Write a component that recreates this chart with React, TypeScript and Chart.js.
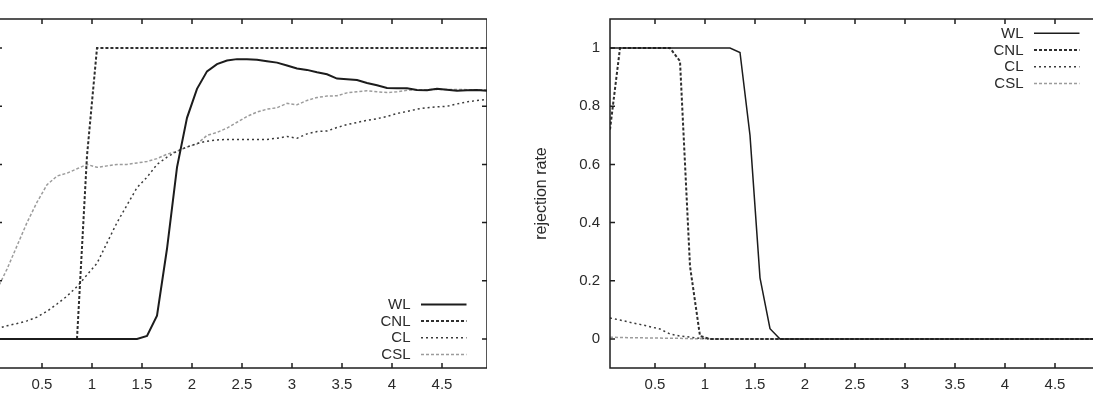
import { useEffect, useRef } from "react";
import { Chart, registerables } from "chart.js";

Chart.register(...registerables);

// Sample positions shared by every curve
const xValues = [
  0.05, 0.15, 0.25, 0.35, 0.45, 0.55, 0.65, 0.75, 0.85, 0.95,
  1.05, 1.15, 1.25, 1.35, 1.45, 1.55, 1.65, 1.75, 1.85, 1.95,
  2.05, 2.15, 2.25, 2.35, 2.45, 2.55, 2.65, 2.75, 2.85, 2.95,
  3.05, 3.15, 3.25, 3.35, 3.45, 3.55, 3.65, 3.75, 3.85, 3.95,
  4.05, 4.15, 4.25, 4.35, 4.45, 4.55, 4.65, 4.75, 4.85, 4.95,
];

const xTicks = [0.5, 1, 1.5, 2, 2.5, 3, 3.5, 4, 4.5];
const yTicks = [0, 0.2, 0.4, 0.6, 0.8, 1];
const seriesNames = ["WL", "CNL", "CL", "CSL"];

// Left panel
const wlLeft = [
  0, 0, 0, 0, 0, 0, 0, 0, 0, 0,
  0, 0, 0, 0, 0, 0.01, 0.08, 0.31, 0.59, 0.76,
  0.86, 0.92, 0.945, 0.957, 0.962, 0.962, 0.96, 0.955, 0.95, 0.94,
  0.93, 0.925, 0.917, 0.91, 0.895, 0.893, 0.89, 0.88, 0.872, 0.863,
  0.862, 0.862, 0.856, 0.855, 0.86, 0.857, 0.853, 0.855, 0.856, 0.853,
];
const cnlLeft = [
  0, 0, 0, 0, 0, 0, 0, 0, 0, 0.63,
  1, 1, 1, 1, 1, 1, 1, 1, 1, 1,
  1, 1, 1, 1, 1, 1, 1, 1, 1, 1,
  1, 1, 1, 1, 1, 1, 1, 1, 1, 1,
  1, 1, 1, 1, 1, 1, 1, 1, 1, 1,
];
const clLeft = [
  0.035, 0.045, 0.053, 0.062, 0.075, 0.095, 0.12, 0.147, 0.18, 0.22,
  0.26, 0.33, 0.4, 0.46, 0.52, 0.556, 0.6, 0.625, 0.645, 0.66,
  0.672, 0.68, 0.684, 0.686, 0.686, 0.686, 0.686, 0.686, 0.69, 0.696,
  0.69, 0.705, 0.713, 0.715, 0.727, 0.737, 0.744, 0.752, 0.757, 0.765,
  0.775, 0.782, 0.79, 0.795, 0.798, 0.8, 0.808, 0.815, 0.82, 0.823,
];
const cslLeft = [
  0.17, 0.24, 0.32, 0.4, 0.47, 0.53, 0.56, 0.57, 0.585, 0.6,
  0.59, 0.595, 0.6, 0.6, 0.605, 0.61, 0.62, 0.635, 0.645, 0.66,
  0.67, 0.7, 0.71, 0.725, 0.745, 0.765, 0.78, 0.79, 0.795, 0.81,
  0.805, 0.82, 0.83, 0.835, 0.836, 0.846, 0.85, 0.853, 0.85, 0.847,
  0.85, 0.855, 0.857, 0.857, 0.858, 0.858, 0.858, 0.857, 0.857, 0.857,
];

// Right panel (rejection rate)
const wlRight = [
  1, 1, 1, 1, 1, 1, 1, 1, 1, 1,
  1, 1, 1, 0.985, 0.7, 0.21, 0.035, 0, 0, 0,
  0, 0, 0, 0, 0, 0, 0, 0, 0, 0,
  0, 0, 0, 0, 0, 0, 0, 0, 0, 0,
  0, 0, 0, 0, 0, 0, 0, 0, 0, 0,
];
const cnlRight = [
  0.72, 1, 1, 1, 1, 1, 1, 0.955, 0.25, 0.01,
  0, 0, 0, 0, 0, 0, 0, 0, 0, 0,
  0, 0, 0, 0, 0, 0, 0, 0, 0, 0,
  0, 0, 0, 0, 0, 0, 0, 0, 0, 0,
  0, 0, 0, 0, 0, 0, 0, 0, 0, 0,
];
const clRight = [
  0.072, 0.065, 0.057, 0.05, 0.042, 0.034, 0.017, 0.01, 0.006, 0.002,
  0, 0, 0, 0, 0, 0, 0, 0, 0, 0,
  0, 0, 0, 0, 0, 0, 0, 0, 0, 0,
  0, 0, 0, 0, 0, 0, 0, 0, 0, 0,
  0, 0, 0, 0, 0, 0, 0, 0, 0, 0,
];
const cslRight = [
  0.006, 0.005, 0.004, 0.004, 0.003, 0.003, 0.002, 0.002, 0.001, 0.001,
  0, 0, 0, 0, 0, 0, 0, 0, 0, 0,
  0, 0, 0, 0, 0, 0, 0, 0, 0, 0,
  0, 0, 0, 0, 0, 0, 0, 0, 0, 0,
  0, 0, 0, 0, 0, 0, 0, 0, 0, 0,
];

const lineColors = ["#1c1c1c", "#2e2e2e", "#3a3a3a", "#9c9c9c"];
const lineDashes: number[][] = [[], [3, 2], [2, 3], [3, 2]];

const FONT = "'Liberation Sans', Arial, Helvetica, sans-serif";
const TEXT_COLOR = "#2a2a2a";

// Box around the plot with short inward ticks on all four sides
const framePlugin = {
  id: "frameTicks",
  afterDatasetsDraw(chart: any) {
    const { ctx, chartArea: a, scales } = chart;
    const len = 5;
    ctx.save();
    ctx.strokeStyle = "#1e1e1e";
    ctx.lineWidth = 1.5;
    ctx.setLineDash([]);
    ctx.strokeRect(a.left, a.top, a.right - a.left, a.bottom - a.top);
    ctx.beginPath();
    for (const t of xTicks) {
      const px = scales.x.getPixelForValue(t);
      ctx.moveTo(px, a.bottom);
      ctx.lineTo(px, a.bottom - len);
      ctx.moveTo(px, a.top);
      ctx.lineTo(px, a.top + len);
    }
    for (const t of yTicks) {
      const py = scales.y.getPixelForValue(t);
      ctx.moveTo(a.left, py);
      ctx.lineTo(a.left + len, py);
      ctx.moveTo(a.right, py);
      ctx.lineTo(a.right - len, py);
    }
    ctx.stroke();
    ctx.restore();
  },
};

// Key with right-aligned names followed by a line sample
const keyPlugin = {
  id: "lineKey",
  afterDatasetsDraw(chart: any, _args: any, opts: any) {
    const { ctx, chartArea: a } = chart;
    const sets = chart.data.datasets;
    const step = 16.7;
    const n = sets.length;
    const firstY =
      opts.corner === "bottom" ? a.bottom - 13.5 - step * (n - 1) : a.top + 14.3;
    ctx.save();
    ctx.font = `15px ${FONT}`;
    ctx.textAlign = "right";
    ctx.textBaseline = "middle";
    sets.forEach((ds: any, i: number) => {
      const y = firstY + i * step;
      ctx.fillStyle = TEXT_COLOR;
      ctx.fillText(ds.label, a.right - 76.5, y + 0.5);
      ctx.strokeStyle = ds.borderColor;
      ctx.lineWidth = ds.borderWidth;
      ctx.setLineDash(ds.borderDash || []);
      ctx.beginPath();
      ctx.moveTo(a.right - 66, y);
      ctx.lineTo(a.right - 20.5, y);
      ctx.stroke();
    });
    ctx.restore();
  },
};

function makeConfig(series: number[][], widths: number[], corner: string, yTitle: string) {
  return {
    type: "line" as const,
    data: {
      datasets: series.map((vals, i) => ({
        label: seriesNames[i],
        data: xValues.map((x, j) => ({ x, y: vals[j] })),
        borderColor: lineColors[i],
        borderWidth: widths[i],
        borderDash: lineDashes[i],
        pointRadius: 0,
        tension: 0,
        fill: false,
      })),
    },
    options: {
      animation: false as const,
      responsive: false,
      maintainAspectRatio: false,
      layout: { padding: { top: 15, right: 0, bottom: 0, left: 0 } },
      plugins: {
        legend: { display: false },
        tooltip: { enabled: false },
        lineKey: { corner },
      },
      scales: {
        x: {
          type: "linear" as const,
          min: 0.05,
          max: 4.95,
          grid: { display: false, drawTicks: false },
          border: { display: false },
          afterBuildTicks: (s: any) => {
            s.ticks = xTicks.map((v) => ({ value: v }));
          },
          afterFit: (s: any) => {
            s.height = 32;
          },
          ticks: {
            autoSkip: false,
            maxRotation: 0,
            padding: 8,
            color: TEXT_COLOR,
            font: { family: FONT, size: 15 },
            callback: (v: any) => String(v),
          },
        },
        y: {
          type: "linear" as const,
          min: -0.1,
          max: 1.1,
          grid: { display: false, drawTicks: false },
          border: { display: false },
          afterBuildTicks: (s: any) => {
            s.ticks = yTicks.map((v) => ({ value: v }));
          },
          afterFit: (s: any) => {
            s.width = 80;
          },
          title: {
            display: yTitle !== "",
            text: yTitle,
            color: TEXT_COLOR,
            font: { family: FONT, size: 16 },
            padding: { top: 2, bottom: 0 },
          },
          ticks: {
            autoSkip: false,
            padding: 10,
            color: TEXT_COLOR,
            font: { family: FONT, size: 15 },
            callback: (v: any) => String(v),
          },
        },
      },
    },
    plugins: [framePlugin, keyPlugin],
  };
}

function Panel(props: {
  series: number[][];
  widths: number[];
  corner: string;
  yTitle: string;
  left: number;
}) {
  const ref = useRef<HTMLCanvasElement>(null);
  useEffect(() => {
    if (!ref.current) return;
    const chart = new Chart(
      ref.current,
      makeConfig(props.series, props.widths, props.corner, props.yTitle) as any
    );
    return () => chart.destroy();
  }, []);
  return (
    <canvas
      ref={ref}
      width={570}
      height={400}
      style={{ position: "absolute", left: props.left, top: 0, width: 570, height: 400, display: "block" }}
    />
  );
}

export default function App() {
  return (
    <div
      style={{
        position: "fixed",
        left: 0,
        top: 0,
        width: 1093,
        height: 400,
        overflow: "hidden",
        background: "#ffffff",
      }}
    >
      <Panel
        series={[wlLeft, cnlLeft, clLeft, cslLeft]}
        widths={[2, 2, 1.5, 1.5]}
        corner="bottom"
        yTitle=""
        left={-83}
      />
      <Panel
        series={[wlRight, cnlRight, clRight, cslRight]}
        widths={[1.5, 2, 1.5, 1.5]}
        corner="top"
        yTitle="rejection rate"
        left={530}
      />
    </div>
  );
}
